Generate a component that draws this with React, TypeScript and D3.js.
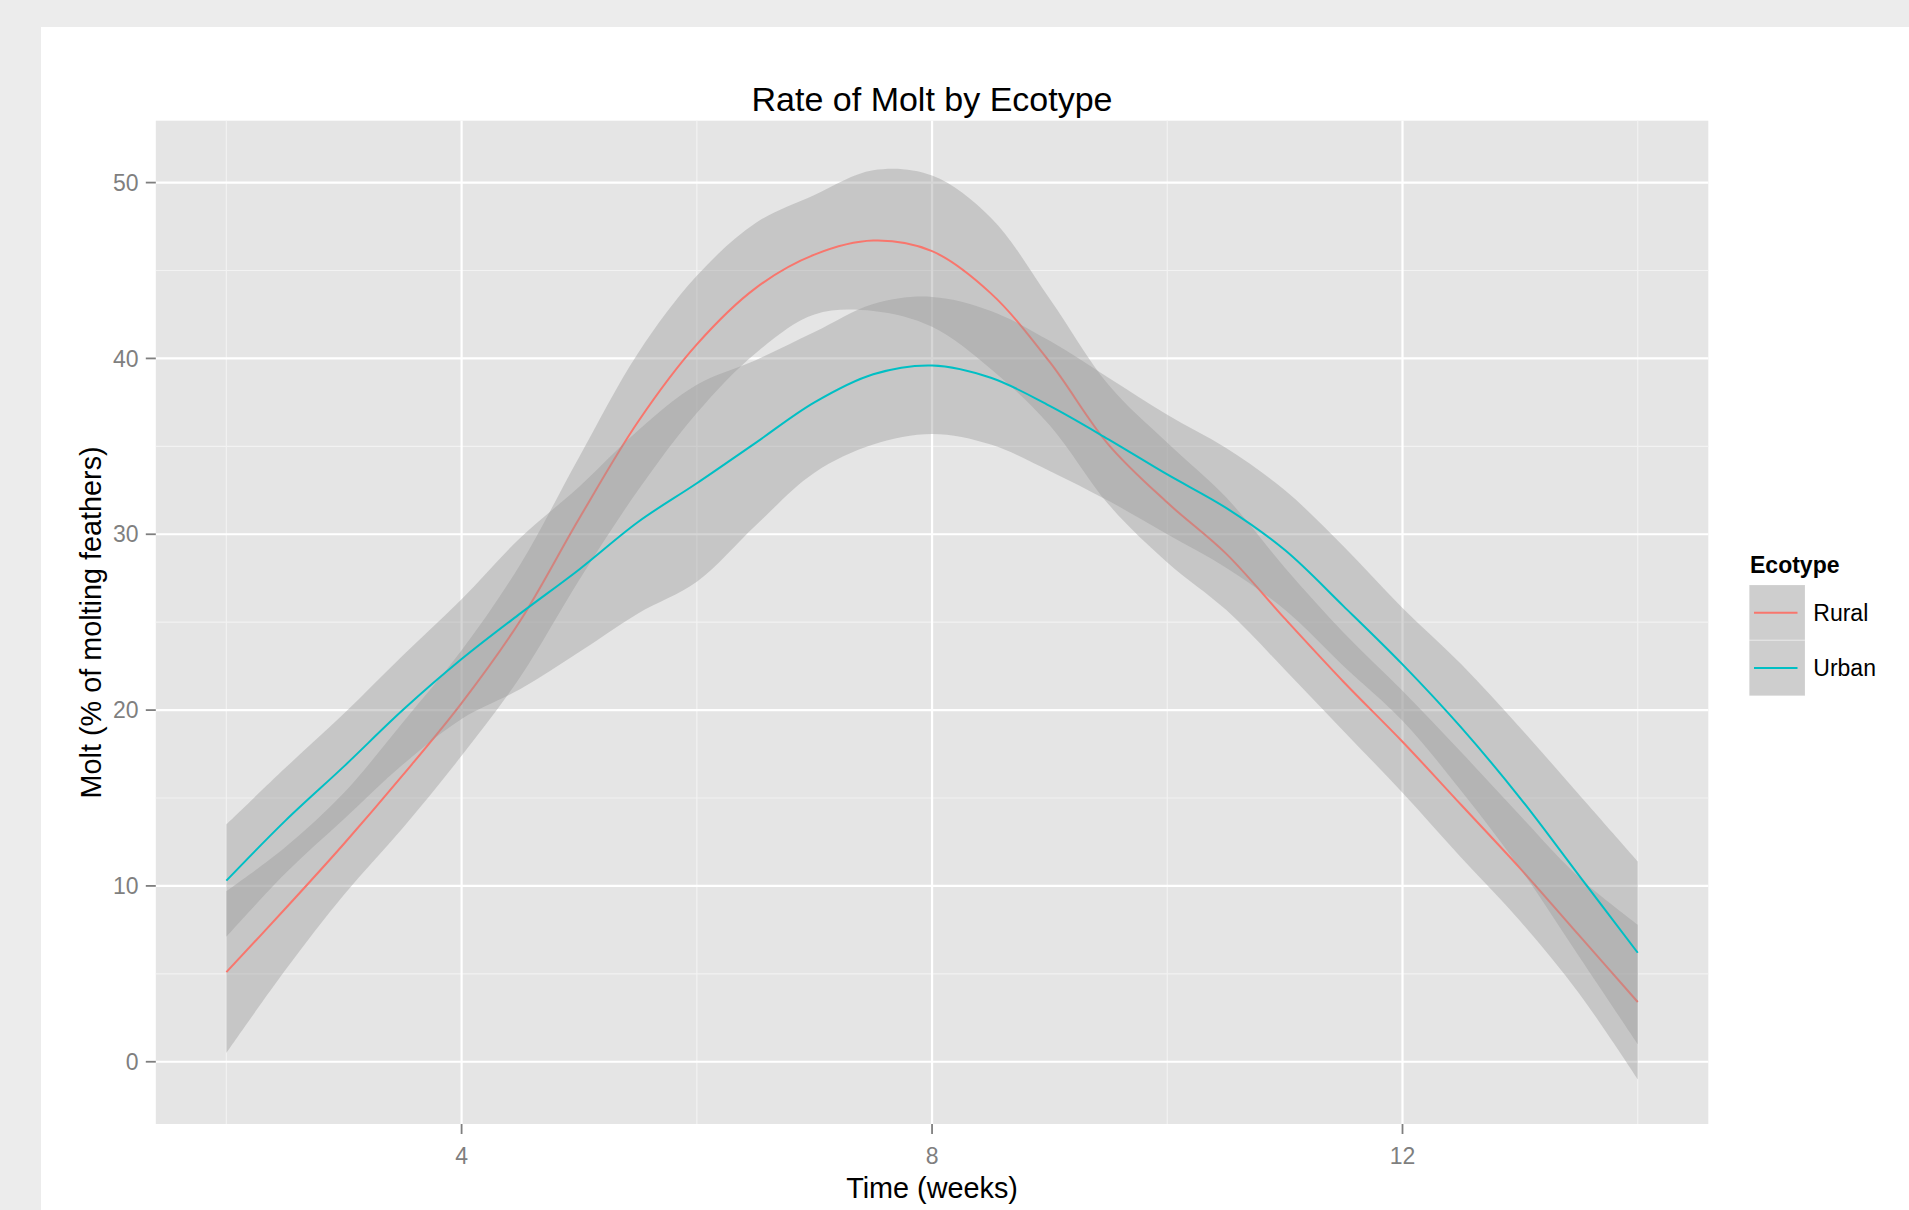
import React, { useEffect } from 'react';
import * as d3 from 'd3';

// Time (weeks) at which the loess fits are read
const weeks = [2, 2.5, 3, 3.5, 4, 4.5, 5, 5.5, 6, 6.5, 7, 7.5, 8, 8.5, 9, 9.5, 10, 10.5, 11, 11.5, 12, 12.5, 13, 13.5, 14];

const ruralFit = [5.1, 8.7, 12.4, 16.3, 20.4, 25.1, 30.9, 36.4, 40.8, 44.0, 45.9, 46.7, 46.1, 43.7, 39.8, 35.1, 31.8, 28.9, 25.2, 21.6, 18.2, 14.6, 11.0, 7.2, 3.4];
const ruralLower = [0.5, 5.2, 9.5, 13.3, 17.4, 21.9, 27.4, 32.5, 36.9, 40.3, 42.5, 42.7, 41.8, 39.4, 36.2, 31.7, 28.4, 25.7, 22.3, 18.8, 15.3, 11.6, 8.0, 3.9, -1.0];
const ruralUpper = [9.7, 12.2, 15.3, 19.3, 23.4, 28.3, 34.4, 40.3, 44.7, 47.7, 49.3, 50.7, 50.4, 48.0, 43.4, 38.5, 35.2, 32.1, 28.1, 24.4, 21.1, 17.6, 14.0, 10.5, 7.8];

const urbanFit = [10.3, 13.7, 16.8, 20.0, 22.9, 25.5, 28.0, 30.7, 32.9, 35.2, 37.5, 39.1, 39.6, 38.9, 37.3, 35.4, 33.4, 31.5, 29.1, 25.9, 22.6, 19.0, 15.0, 10.6, 6.2];
const urbanLower = [7.1, 10.7, 13.8, 16.9, 19.5, 21.2, 23.3, 25.5, 27.3, 30.5, 33.5, 35.1, 35.7, 35.1, 33.6, 31.9, 30.0, 28.1, 25.7, 22.5, 19.4, 15.4, 11.0, 6.0, 1.0];
const urbanUpper = [13.5, 16.7, 19.8, 23.1, 26.3, 29.8, 32.7, 35.9, 38.5, 39.9, 41.5, 43.1, 43.5, 42.7, 41.0, 38.9, 36.8, 34.9, 32.5, 29.3, 25.8, 22.6, 19.0, 15.2, 11.4];

const seriesNames = ['Rural', 'Urban'];
const seriesColors = ['#F8766D', '#00BFC4'];

const xMajor = [4, 8, 12];
const xMinor = [2, 6, 10, 14];
const yMajor = [0, 10, 20, 30, 40, 50];
const yMinor = [5, 15, 25, 35, 45];

const FONT = '"Liberation Sans", Arial, Helvetica, sans-serif';

export default function App() {
  useEffect(() => {
    document.body.style.margin = '0';
    document.body.style.overflow = 'hidden';
  }, []);

  const W = 1909;
  const H = 1210;
  const P = { left: 155.8, right: 1708.3, top: 120.7, bottom: 1124 };

  const x = d3.scaleLinear().domain([1.4, 14.6]).range([P.left, P.right]);
  const y = d3.scaleLinear().domain([-3.54, 53.52]).range([P.bottom, P.top]);

  const series = [
    { name: seriesNames[0], color: seriesColors[0], fit: ruralFit, lo: ruralLower, hi: ruralUpper },
    { name: seriesNames[1], color: seriesColors[1], fit: urbanFit, lo: urbanLower, hi: urbanUpper },
  ];

  const curve = d3.curveCatmullRom.alpha(0.5);
  const idx = weeks.map((_, i) => i);
  const tickColor = '#7f7f7f';

  return (
    <svg width={W} height={H} style={{ position: 'absolute', left: 0, top: 0, display: 'block' }} fontFamily={FONT}>
      <rect x={0} y={0} width={W} height={H} fill="#ececec" />
      <rect x={41} y={27} width={W - 41} height={H - 27} fill="#ffffff" />
      <defs>
        <clipPath id="panelClip">
          <rect x={P.left} y={P.top} width={P.right - P.left} height={P.bottom - P.top} />
        </clipPath>
      </defs>
      {/* panel */}
      <rect x={P.left} y={P.top} width={P.right - P.left} height={P.bottom - P.top} fill="#e5e5e5" />
      {yMinor.map((v) => (
        <line key={'ym' + v} x1={P.left} x2={P.right} y1={y(v)} y2={y(v)} stroke="#f2f2f2" strokeWidth={1.2} />
      ))}
      {xMinor.map((v) => (
        <line key={'xm' + v} y1={P.top} y2={P.bottom} x1={x(v)} x2={x(v)} stroke="#f2f2f2" strokeWidth={1.2} />
      ))}
      {yMajor.map((v) => (
        <line key={'yM' + v} x1={P.left} x2={P.right} y1={y(v)} y2={y(v)} stroke="#ffffff" strokeWidth={2.2} />
      ))}
      {xMajor.map((v) => (
        <line key={'xM' + v} y1={P.top} y2={P.bottom} x1={x(v)} x2={x(v)} stroke="#ffffff" strokeWidth={2.2} />
      ))}
      <g clipPath="url(#panelClip)">
        {series.map((s) => {
          const band = d3
            .area<number>()
            .x((i) => x(weeks[i]))
            .y0((i) => y(s.lo[i]))
            .y1((i) => y(s.hi[i]))
            .curve(curve);
          const line = d3
            .line<number>()
            .x((i) => x(weeks[i]))
            .y((i) => y(s.fit[i]))
            .curve(curve);
          return (
            <g key={s.name}>
              <path d={band(idx) || ''} fill="#999999" fillOpacity={0.4} stroke="none" />
              <path d={line(idx) || ''} fill="none" stroke={s.color} strokeWidth={2} />
            </g>
          );
        })}
      </g>
      {/* y axis */}
      {yMajor.map((v) => (
        <g key={'yt' + v}>
          <line x1={P.left - 10} x2={P.left} y1={y(v)} y2={y(v)} stroke={tickColor} strokeWidth={1.8} />
          <text x={138.5} y={y(v) + 8.2} textAnchor="end" fontSize={23} fill={tickColor}>
            {v}
          </text>
        </g>
      ))}
      {/* x axis */}
      {xMajor.map((v) => (
        <g key={'xt' + v}>
          <line x1={x(v)} x2={x(v)} y1={P.bottom} y2={P.bottom + 10} stroke={tickColor} strokeWidth={1.8} />
          <text x={x(v)} y={1164} textAnchor="middle" fontSize={23} fill={tickColor}>
            {v}
          </text>
        </g>
      ))}
      {/* titles */}
      <text x={(P.left + P.right) / 2} y={111} textAnchor="middle" fontSize={34} fill="#000">
        Rate of Molt by Ecotype
      </text>
      <text x={(P.left + P.right) / 2} y={1197.5} textAnchor="middle" fontSize={28.8} fill="#000">
        Time (weeks)
      </text>
      <text
        transform={`translate(101, ${(P.top + P.bottom) / 2}) rotate(-90)`}
        textAnchor="middle"
        fontSize={28.8}
        fill="#000"
      >
        Molt (% of molting feathers)
      </text>
      {/* legend */}
      <text x={1750} y={573.3} fontSize={23} fontWeight="bold" fill="#000">
        Ecotype
      </text>
      {series.map((s, i) => {
        const ky = 585 + i * 55.35;
        return (
          <g key={'lg' + s.name}>
            <rect x={1749.3} y={ky} width={55.7} height={55.35} fill="#f2f2f2" stroke="#ffffff" strokeWidth={1} />
            <rect x={1749.3} y={ky} width={55.7} height={55.35} fill="#999999" fillOpacity={0.4} />
            <line x1={1754} x2={1797.5} y1={ky + 27.7} y2={ky + 27.7} stroke={s.color} strokeWidth={2} />
            <text x={1813.3} y={ky + 27.7 + 8.3} fontSize={23} fill="#000">
              {s.name}
            </text>
          </g>
        );
      })}
    </svg>
  );
}
